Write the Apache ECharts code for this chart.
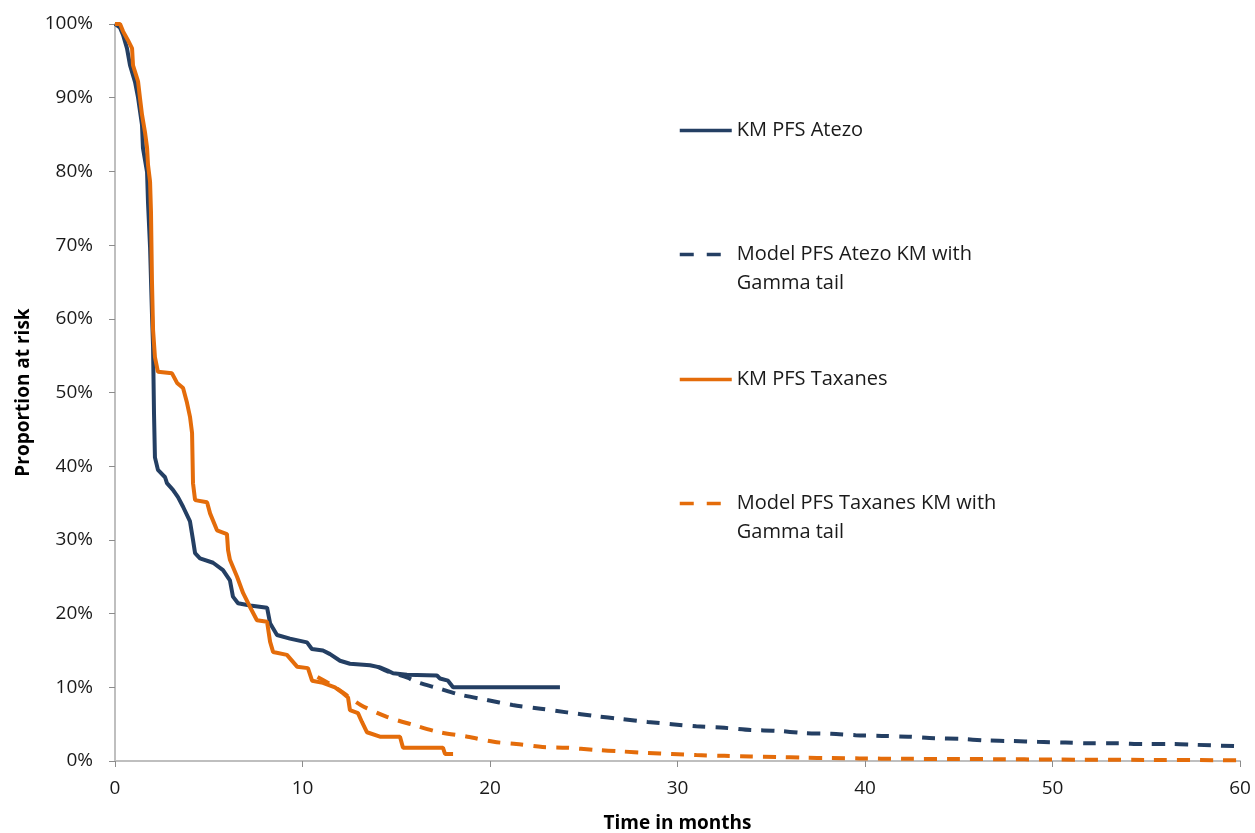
<!DOCTYPE html>
<html>
<head>
<meta charset="utf-8">
<script src="https://cdn.jsdelivr.net/npm/echarts@6/dist/echarts.min.js"></script>
<style>
html,body{margin:0;padding:0;background:#fff;}
#chart{width:1255px;height:833px;}
</style>
</head>
<body>
<div id="chart"></div>
<script>
// ---- data: [month, percent] ----
const seriesNames = [
  'KM PFS Atezo',
  'Model PFS Atezo KM with\nGamma tail',
  'KM PFS Taxanes',
  'Model PFS Taxanes KM with\nGamma tail'
];
const kmAtezo = [[0,100],[0.27,99.5],[0.43,98.5],[0.64,96.7],[0.8,94.4],[1.07,92.1],[1.23,90],[1.44,86.3],[1.49,83.2],[1.71,79.9],[1.76,75.8],[1.87,69.7],[1.97,60.8],[2.03,56.2],[2.08,47.2],[2.13,41.2],[2.29,39.5],[2.67,38.5],[2.77,37.7],[3.09,36.8],[3.36,35.8],[3.63,34.5],[4.0,32.5],[4.16,30],[4.27,28.2],[4.53,27.5],[5.23,26.9],[5.76,25.9],[6.13,24.5],[6.29,22.3],[6.56,21.4],[7.2,21.1],[8.11,20.8],[8.27,18.7],[8.64,17.1],[9.33,16.6],[10.24,16.1],[10.5,15.2],[11.09,15.0],[11.47,14.5],[12.0,13.6],[12.53,13.2],[13.6,13.0],[14.13,12.7],[14.51,12.3],[14.83,11.9],[15.57,11.7],[17.17,11.6],[17.33,11.2],[17.76,10.9],[18.03,10.0],[23.73,10.0]];
const modelAtezo = [[14.0,12.8],[14.5,12.2],[15.6,11.3],[16.1,10.7],[17.2,9.9],[18.4,9.0],[19.8,8.3],[21.2,7.6],[22.7,7.1],[24.1,6.6],[25.6,6.1],[27.0,5.7],[28.4,5.3],[29.7,5.0],[31.0,4.7],[32.5,4.5],[33.9,4.2],[35.3,4.1],[36.7,3.8],[38.2,3.7],[39.5,3.5],[40.9,3.4],[42.3,3.3],[43.7,3.1],[45.1,3.0],[46.4,2.8],[47.9,2.7],[49.2,2.6],[50.7,2.5],[52,2.4],[53.4,2.4],[54.9,2.3],[56.3,2.3],[57.6,2.2],[60,2.0]];
const kmTaxanes = [[0,100],[0.27,100],[0.43,99],[0.69,97.8],[0.91,96.7],[0.96,94.4],[1.17,92.7],[1.23,92.2],[1.33,90],[1.44,87.7],[1.6,85.3],[1.71,83.2],[1.76,80.9],[1.87,78.6],[1.92,74.4],[1.97,65.3],[2.03,58.5],[2.13,54.8],[2.29,52.8],[3.04,52.6],[3.31,51.3],[3.63,50.6],[3.84,48.6],[4.0,46.7],[4.11,44.5],[4.16,37.7],[4.27,35.4],[4.91,35.1],[5.07,33.6],[5.44,31.3],[5.97,30.8],[6.03,28.6],[6.13,27.3],[6.51,25],[6.83,22.8],[7.2,20.9],[7.57,19.1],[8.11,18.9],[8.27,16.2],[8.43,14.8],[9.17,14.4],[9.71,12.8],[10.29,12.6],[10.51,10.9],[11.09,10.6],[11.73,10.0],[12.16,9.2],[12.43,8.6],[12.53,6.9],[12.96,6.5],[13.17,5.3],[13.44,3.9],[14.13,3.3],[15.2,3.3],[15.36,1.8],[17.49,1.8],[17.6,0.95],[18.03,0.95]];
const modelTaxanes = [[10.8,11.4],[11.5,10.4],[12.2,9.2],[13.1,7.6],[14.5,6.0],[15.9,4.9],[17.3,3.9],[18.8,3.3],[20.2,2.6],[21.4,2.3],[22.8,1.9],[24.1,1.8],[25.6,1.5],[27,1.3],[28.4,1.1],[29.7,0.95],[31,0.8],[32.5,0.7],[33.9,0.6],[35.3,0.55],[36.7,0.45],[38.2,0.4],[39.7,0.35],[42,0.3],[45,0.27],[47,0.25],[50,0.2],[55,0.15],[60,0.1]];
const xTicks = [0,10,20,30,40,50,60];
const yTicks = [0,10,20,30,40,50,60,70,80,90,100];

const BLUE = '#243F63';
const ORANGE = '#E46C0A';
const FONT = 'Open Sans';
const chart = echarts.init(document.getElementById('chart'));

function legendFor(name, top, twoLine) {
  const lg = {
    show: true,
    data: [name],
    left: 678,
    top: top,
    padding: 0,
    orient: 'vertical',
    itemWidth: 52,
    itemHeight: 14,
    selectedMode: false,
    itemStyle: { opacity: 0 },
    lineStyle: { width: 3.5 },
    formatter: n => (twoLine ? '\n' + n : n),
    textStyle: {
      fontFamily: FONT, fontSize: 20, color: '#1a1a1a',
      lineHeight: 29
    }
  };
  if (twoLine) lg.lineStyle = { width: 3.5, type: [14, 13] };
  return lg;
}

chart.setOption({
  animation: false,
  backgroundColor: '#ffffff',
  grid: { left: 115, right: 15, top: 24, bottom: 72, containLabel: false, outerBoundsMode: 'none' },
  legend: [
    legendFor(seriesNames[0], 116, false),
    legendFor(seriesNames[1], 211, true),
    legendFor(seriesNames[2], 365, false),
    legendFor(seriesNames[3], 460, true)
  ],
  xAxis: {
    type: 'value', min: 0, max: 60, interval: 10,
    name: 'Time in months', nameLocation: 'middle', nameGap: 53,
    nameTextStyle: { fontFamily: FONT, fontSize: 19, fontWeight: 'bold', color: '#000' },
    axisLine: { show: true, lineStyle: { color: '#BFBFBF', width: 2 } },
    axisTick: { show: true, length: 6, lineStyle: { color: '#8c8c8c' } },
    axisLabel: { fontFamily: FONT, fontSize: 19, color: '#1a1a1a', margin: 18,
      customValues: xTicks },
    splitLine: { show: false }
  },
  yAxis: {
    type: 'value', min: 0, max: 100, interval: 10,
    name: 'Proportion at risk', nameLocation: 'middle', nameGap: 82, nameRotate: 90,
    nameTextStyle: { fontFamily: FONT, fontSize: 19, fontWeight: 'bold', color: '#000' },
    axisLine: { show: true, lineStyle: { color: '#BFBFBF', width: 2 } },
    axisTick: { show: true, length: 6, lineStyle: { color: '#8c8c8c' } },
    axisLabel: { fontFamily: FONT, fontSize: 19, color: '#1a1a1a', margin: 22,
      formatter: v => v + '%', customValues: yTicks },
    splitLine: { show: false }
  },
  series: [
    { name: seriesNames[0], type: 'line', data: kmAtezo, showSymbol: false, symbol: 'none',
      lineStyle: { color: BLUE, width: 4 }, itemStyle: { color: BLUE }, z: 4 },
    { name: seriesNames[1], type: 'line', data: modelAtezo, showSymbol: false, symbol: 'none', smooth: 0.3,
      lineStyle: { color: BLUE, width: 4, type: [13, 10] }, itemStyle: { color: BLUE }, z: 3 },
    { name: seriesNames[2], type: 'line', data: kmTaxanes, showSymbol: false, symbol: 'none',
      lineStyle: { color: ORANGE, width: 4 }, itemStyle: { color: ORANGE }, z: 5 },
    { name: seriesNames[3], type: 'line', data: modelTaxanes, showSymbol: false, symbol: 'none', smooth: 0.3,
      lineStyle: { color: ORANGE, width: 4, type: [13, 10] }, itemStyle: { color: ORANGE }, z: 3 }
  ]
});
</script>
</body>
</html>
